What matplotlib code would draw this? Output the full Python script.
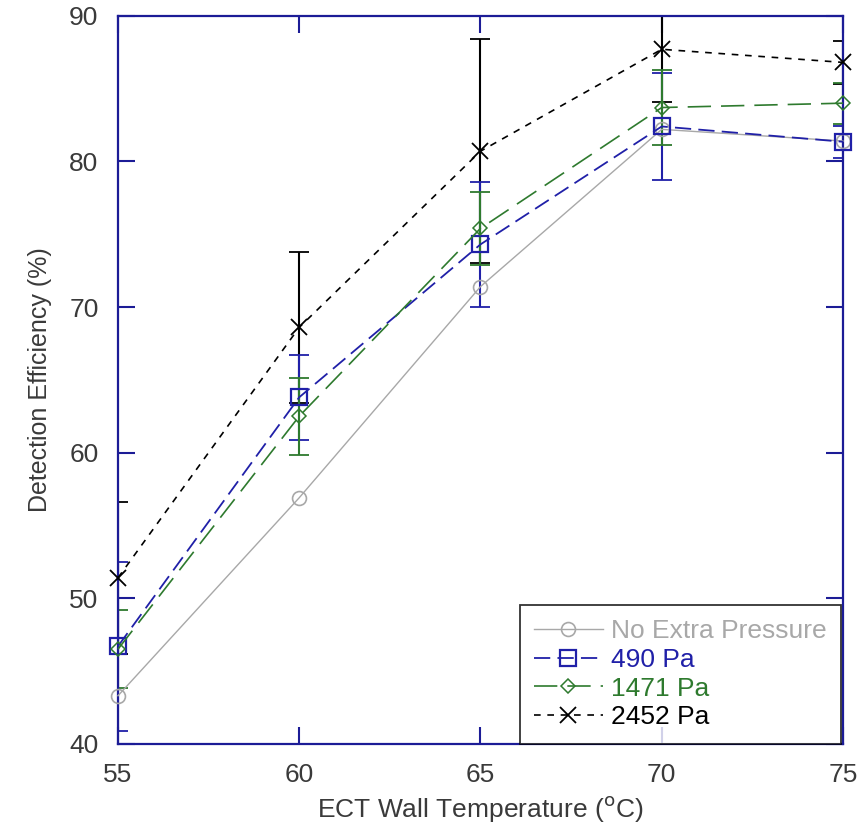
import matplotlib
matplotlib.use("Agg")
import matplotlib.pyplot as plt
from matplotlib.ticker import MultipleLocator

plt.rcParams["font.family"] = ["Liberation Sans", "DejaVu Sans"]

temps = [55, 60, 65, 70, 75]

no_extra = [43.3, 56.9, 71.4, 82.2, 81.4]
pa_490 = [46.7, 63.8, 74.3, 82.4, 81.35]
pa_490_err = [5.8, 2.9, 4.3, 3.7, 1.1]
pa_1471 = [46.5, 62.5, 75.4, 83.7, 84.0]
pa_1471_err = [2.7, 2.65, 2.5, 2.6, 1.4]
pa_2452 = [51.4, 68.6, 80.7, 87.7, 86.8]
pa_2452_err = [5.2, 5.2, 7.7, 3.6, 1.5]

labels = ["No Extra Pressure", "490 Pa", "1471 Pa", "2452 Pa"]
navy = "#1c1c96"
gray = "#a8a8a8"
blue = "#2020a8"
green = "#2e7a2e"
textc = "#3a3a3a"

fig = plt.figure(figsize=(8.58, 8.32), dpi=100)
ax = fig.add_axes([0.1375, 0.106, 0.845, 0.875])

ax.errorbar(temps, pa_2452, yerr=pa_2452_err, color="black", lw=1.5,
            capsize=7, capthick=1.3, linestyle="none", zorder=2)
ax.errorbar(temps, pa_490, yerr=pa_490_err, color=blue, lw=1.5,
            capsize=7, capthick=1.3, linestyle="none", zorder=2)
ax.errorbar(temps, pa_1471, yerr=pa_1471_err, color=green, lw=1.5,
            capsize=7, capthick=1.3, linestyle="none", zorder=2)

h1, = ax.plot(temps, no_extra, color=gray, lw=1.0, marker="o", ms=10,
              mfc="none", mec=gray, mew=1.2, zorder=3, clip_on=False)
h2, = ax.plot(temps, pa_490, color=blue, lw=1.3, linestyle=(0, (9, 4)),
              marker="s", ms=11, mfc="none", mec=blue, mew=1.6, zorder=4, clip_on=False)
h3, = ax.plot(temps, pa_1471, color=green, lw=1.2, linestyle=(0, (14, 6)),
              marker="D", ms=7, mfc="none", mec=green, mew=1.1, zorder=4, clip_on=False)
h4, = ax.plot(temps, pa_2452, color="black", lw=1.2, linestyle=(0, (4, 4)),
              marker="x", ms=12, mew=1.3, zorder=5, clip_on=False)

ax.set_xlim(55, 75)
ax.set_ylim(40, 90)
ax.xaxis.set_major_locator(MultipleLocator(5))
ax.yaxis.set_major_locator(MultipleLocator(10))

for s in ax.spines.values():
    s.set_color(navy)
    s.set_linewidth(1.6)
ax.tick_params(direction="in", length=12, width=1.5, color=navy,
               top=True, right=True, labelsize=19, labelcolor=textc, pad=14)

ax.set_xlabel("ECT Wall Temperature ($^{\\rm o}$C)", fontsize=19, color=textc, labelpad=5)
ax.set_ylabel("Detection Efficiency (%)", fontsize=18, color=textc, labelpad=12)

leg = ax.legend([h1, h2, h3, h4], labels, loc="lower right", fontsize=19,
                bbox_to_anchor=(0.997, 0.0), frameon=True, fancybox=False,
                borderaxespad=0.0, handlelength=2.6, handletextpad=0.3,
                labelspacing=0.18, borderpad=0.55)
leg.get_frame().set_edgecolor("black")
leg.get_frame().set_linewidth(1.3)
for txt, c in zip(leg.get_texts(), [gray, blue, green, "black"]):
    txt.set_color(c)

fig.savefig("out.png", dpi=100)
